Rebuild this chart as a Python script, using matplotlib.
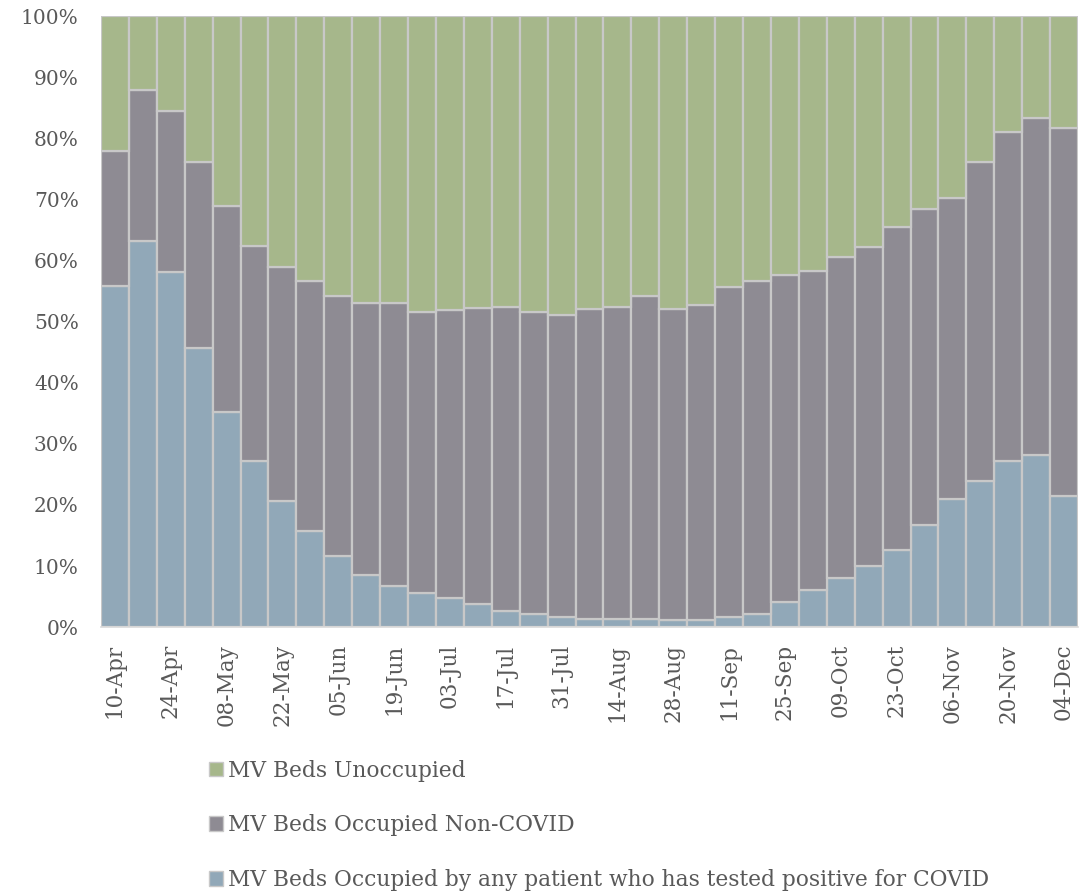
import matplotlib
matplotlib.use("Agg")
import matplotlib.pyplot as plt
from matplotlib.patches import Patch
from matplotlib.ticker import PercentFormatter

# weekly dates, 10-Apr to 04-Dec
dates = ["10-Apr", "17-Apr", "24-Apr", "01-May", "08-May", "15-May", "22-May", "29-May",
         "05-Jun", "12-Jun", "19-Jun", "26-Jun", "03-Jul", "10-Jul", "17-Jul", "24-Jul",
         "31-Jul", "07-Aug", "14-Aug", "21-Aug", "28-Aug", "04-Sep", "11-Sep", "18-Sep",
         "25-Sep", "02-Oct", "09-Oct", "16-Oct", "23-Oct", "30-Oct", "06-Nov", "13-Nov",
         "20-Nov", "27-Nov", "04-Dec"]

# shares of MV beds (%)
covid = [55.8, 63.2, 58.1, 45.7, 35.2, 27.2, 20.7, 15.7, 11.7, 8.5, 6.8, 5.6, 4.7, 3.8,
         2.7, 2.2, 1.6, 1.3, 1.3, 1.4, 1.1, 1.1, 1.6, 2.2, 4.1, 6.1, 8.0, 10.0, 12.6,
         16.7, 20.9, 23.9, 27.2, 28.1, 21.5]
non_covid = [22.1, 24.7, 26.4, 30.4, 33.7, 35.2, 38.3, 40.9, 42.5, 44.5, 46.3, 46.0, 47.2,
             48.4, 49.7, 49.4, 49.5, 50.7, 51.1, 52.8, 50.9, 51.7, 54.0, 54.5, 53.6, 52.2,
             52.6, 52.2, 52.9, 51.7, 49.4, 52.3, 53.8, 55.3, 60.2]
unoccupied = [22.1, 12.1, 15.5, 23.9, 31.1, 37.6, 41.0, 43.4, 45.8, 47.0, 46.9, 48.4, 48.1,
              47.8, 47.6, 48.4, 48.9, 48.0, 47.6, 45.8, 48.0, 47.2, 44.4, 43.3, 42.3, 41.7,
              39.4, 37.8, 34.5, 31.6, 29.7, 23.8, 19.0, 16.6, 18.3]

labels = ["MV Beds Unoccupied",
          "MV Beds Occupied Non-COVID",
          "MV Beds Occupied by any patient who has tested positive for COVID"]
colors = {"covid": "#91A8B8", "non": "#8E8B93", "unocc": "#A6B78B"}
edge = "#C8C8C8"
text_col = "#595959"

plt.rcParams["font.family"] = ["DejaVu Serif"]

fig = plt.figure(figsize=(10.82, 8.96), dpi=100)
ax = fig.add_axes([0.0933, 0.300, 0.903, 0.682])

x = list(range(len(dates)))
bottom2 = [a + b for a, b in zip(covid, non_covid)]
ax.bar(x, covid, width=1.0, color=colors["covid"], edgecolor=edge, linewidth=1.6)
ax.bar(x, non_covid, width=1.0, bottom=covid, color=colors["non"], edgecolor=edge, linewidth=1.6)
ax.bar(x, unoccupied, width=1.0, bottom=bottom2, color=colors["unocc"], edgecolor=edge, linewidth=1.6)

ax.set_xlim(-0.5, len(dates) - 0.5)
ax.set_ylim(0, 100)
ax.set_yticks(range(0, 101, 10))
ax.yaxis.set_major_formatter(PercentFormatter(decimals=0))
ax.set_xticks(x[::2])
ax.set_xticklabels(dates[::2], rotation=90)
ax.tick_params(axis="y", length=0, pad=16, labelsize=14.5, labelcolor=text_col)
ax.tick_params(axis="x", length=0, pad=12, labelsize=15.5, labelcolor=text_col)

for s in ["top", "right", "left"]:
    ax.spines[s].set_visible(False)
ax.spines["bottom"].set_color("#D9D9D9")
ax.spines["bottom"].set_linewidth(1.2)

handles = [Patch(facecolor=colors["unocc"], edgecolor=edge),
           Patch(facecolor=colors["non"], edgecolor=edge),
           Patch(facecolor=colors["covid"], edgecolor=edge)]
fig.legend(handles, labels, loc="center left", bbox_to_anchor=(0.193, 0.079),
           frameon=False, fontsize=15.7, labelcolor=text_col, labelspacing=1.5,
           handlelength=0.65, handleheight=0.65, handletextpad=0.25, borderpad=0,
           borderaxespad=0)

fig.savefig("out.png", dpi=100)
